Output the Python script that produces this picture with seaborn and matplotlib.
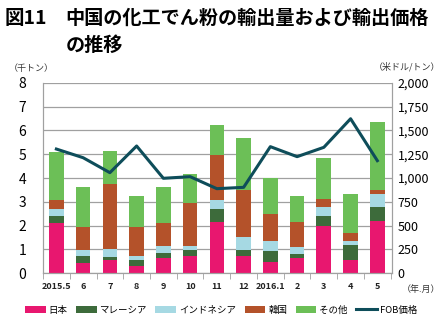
import numpy as np
import pandas as pd
import matplotlib
matplotlib.use("Agg")
import matplotlib.pyplot as plt
import seaborn as sns
from matplotlib.patches import Patch
from matplotlib.lines import Line2D
from matplotlib.ticker import FuncFormatter, MultipleLocator

months = ["2015.5", "6", "7", "8", "9", "10", "11", "12", "2016.1", "2", "3", "4", "5"]
japan = [2.13, 0.43, 0.57, 0.32, 0.66, 0.73, 2.17, 0.73, 0.49, 0.63, 2.00, 0.56, 2.21]
malaysia = [0.29, 0.31, 0.12, 0.23, 0.21, 0.25, 0.52, 0.25, 0.46, 0.18, 0.41, 0.61, 0.59]
indonesia = [0.27, 0.25, 0.34, 0.18, 0.28, 0.17, 0.37, 0.56, 0.42, 0.28, 0.39, 0.20, 0.53]
korea = [0.39, 0.97, 2.70, 1.23, 0.98, 1.82, 1.92, 1.96, 1.13, 1.06, 0.30, 0.34, 0.17]
other = [2.01, 1.68, 1.42, 1.28, 1.51, 1.18, 1.26, 2.19, 1.51, 1.08, 1.73, 1.60, 2.85]
fob = [1304, 1213, 1056, 1336, 997, 1014, 888, 902, 1329, 1224, 1322, 1622, 1182]

series_names = ["日本", "マレーシア", "インドネシア", "韓国", "その他"]
series_vals = [japan, malaysia, indonesia, korea, other]
colors = ["#E8176F", "#3D6B3B", "#A6D9E3", "#B4522A", "#6CBF57"]
line_color = "#0E4D5A"

plt.rcParams['font.family'] = ['Noto Sans CJK JP', 'DejaVu Sans']

fig = plt.figure(figsize=(4.42, 3.28), dpi=100)
ax = fig.add_axes([0.0973, 0.1668, 0.7897, 0.581])

cum = np.cumsum(np.array(series_vals), axis=0)
for i in range(len(series_names) - 1, -1, -1):
    df = pd.DataFrame({"month": months, "value": cum[i]})
    sns.barplot(data=df, x="month", y="value", color=colors[i], width=0.55,
                saturation=1, ax=ax, zorder=2, order=months)

ax.set_ylim(0, 8)
ax.set_xlim(-0.5, 12.55)
ax.yaxis.set_major_locator(MultipleLocator(1))
ax.grid(axis="y", color="#A0A0A0", linewidth=0.9, zorder=0)
ax.set_axisbelow(True)
ax.set_xlabel("")
ax.set_ylabel("")
ax.spines["top"].set_visible(False)
for s in ["left", "bottom", "right"]:
    ax.spines[s].set_color("#A0A0A0")
ax.tick_params(axis="y", length=0, labelsize=10, pad=12)
ax.tick_params(axis="x", which="major", length=0, labelsize=6.5, pad=6)
ax.set_xticks(np.arange(-0.5, 13, 1), minor=True)
ax.tick_params(axis="x", which="minor", length=4, color="#A0A0A0")
for lab in ax.get_xticklabels():
    lab.set_fontweight("bold")
    lab.set_color("#222222")

ax2 = ax.twinx()
pos = np.arange(len(months))
sns.lineplot(x=pos, y=fob, color=line_color, linewidth=2.2, ax=ax2, zorder=3)
ax2.set_ylim(0, 2000)
ax2.yaxis.set_major_locator(MultipleLocator(250))
ax2.yaxis.set_major_formatter(FuncFormatter(lambda v, p: f"{int(v):,}"))
ax2.tick_params(axis="y", length=0, labelsize=9, pad=4)
ax2.spines["top"].set_visible(False)
for s in ["left", "bottom", "right"]:
    ax2.spines[s].set_color("#A0A0A0")
ax2.set_ylabel("")

fig.text(0.01, 0.945, "図11", fontsize=14, fontweight="bold", va="center", ha="left")
fig.text(0.148, 0.945, "中国の化工でん粉の輸出量および輸出価格", fontsize=13.8,
         fontweight="bold", va="center", ha="left")
fig.text(0.148, 0.862, "の推移", fontsize=13.8, fontweight="bold", va="center", ha="left")

fig.text(0.02, 0.79, "（千トン）", fontsize=6.5, va="center", ha="left", color="#333333")
fig.text(0.995, 0.797, "（米ドル/トン）", fontsize=6.5, va="center", ha="right", color="#333333")
fig.text(0.995, 0.118, "（年.月）", fontsize=6.5, va="center", ha="right", color="#333333")

handles = [Patch(facecolor=c, edgecolor="none") for c in colors]
handles.append(Line2D([0], [0], color=line_color, linewidth=2.2))
labels = series_names + ["FOB価格"]
fig.legend(handles, labels, loc="center", bbox_to_anchor=(0.5, 0.055), ncol=6,
           frameon=False, fontsize=6.8, handlelength=2.2, handleheight=0.75,
           columnspacing=0.9, handletextpad=0.3)

fig.savefig("out.png", dpi=100)
